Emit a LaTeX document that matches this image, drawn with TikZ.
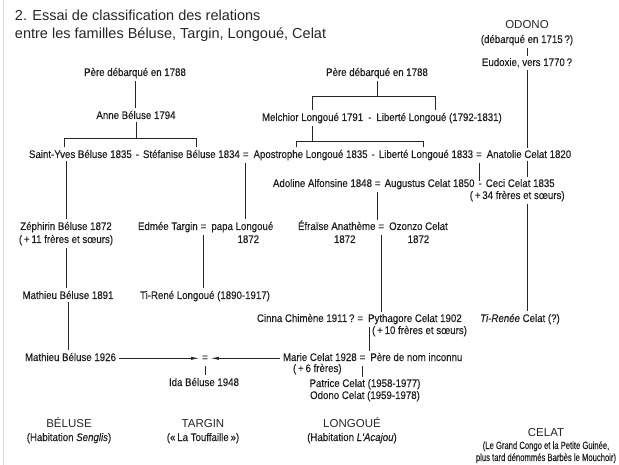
\documentclass[tikz,border=0pt]{standalone}
\usepackage{fontspec}
\setmainfont{Liberation Sans}
\newfontfamily\bodyfont[FakeStretch=0.88,FakeBold=0.3]{Liberation Sans}
\newfontfamily\narrowfont[FakeStretch=0.73,FakeBold=0.3]{Liberation Sans}
\usetikzlibrary{calc,arrows.meta}
\begin{document}
\begin{tikzpicture}[x=1pt,y=-1pt,
  txt/.style={inner sep=0pt, outer xsep=0pt, outer ysep=2.5pt, font=\bodyfont\fontsize{11}{13}\selectfont, text=black!88},
  bw/.style={txt, anchor=base west},
  bc/.style={txt, anchor=base},
  eq/.style={bw, outer ysep=5pt},
  lab/.style={inner sep=0pt, outer sep=0pt, anchor=base, font=\fontsize{11.5}{13}\selectfont, text=black!85},
  ttl/.style={lab, anchor=base west, font=\fontsize{14.5}{17}\selectfont},
  nar/.style={bc, font=\narrowfont\fontsize{10.5}{12}\selectfont},
  ln/.style={line width=0.75pt, draw=black!85},
  arr/.style={ln, -{Latex[length=8pt,width=3.2pt]}},
]
\useasboundingbox (0,0) rectangle (619,465);
\draw[gray!30, line width=1pt] (3,0) -- (3,465);

% title
\node[ttl] (t1) at (15,21) {2. Essai de classification des relations};
\node[ttl] (t2) at (15,39) {entre les familles Béluse, Targin, Longoué, Celat};

% Odono
\node[lab] (odono) at (527,29) {ODONO};
\node[bc] (deb) at (527,43) {(débarqué en 1715\,?)};
\node[bc] (eud) at (527,66) {Eudoxie, vers 1770\,?};

% first generations
\node[bc] (pere1) at (135,76) {Père débarqué en 1788};
\node[bc] (pere2) at (377,76) {Père débarqué en 1788};
\node[bc] (anne) at (136,119) {Anne Béluse 1794};
\node[bw] (mel) at (262,121) {Melchior Longoué 1791};
\node[bw] (md) at ([xshift=5pt]mel.base east) {-};
\node[bw] (lib1) at ([xshift=5pt]md.base east) {Liberté Longoué (1792-1831)};

% row C
\node[bw] (sy) at (29,158) {Saint-Yves Béluse 1835};
\node[bw] (d1) at ([xshift=4pt]sy.base east) {-};
\node[bw] (st) at ([xshift=4pt]d1.base east) {Stéfanise Béluse 1834};
\node[eq] (e1) at ([xshift=3pt]st.base east) {=};
\node[bw] (apo) at ([xshift=5pt]e1.base east) {Apostrophe Longoué 1835};
\node[bw] (d2) at ([xshift=4pt]apo.base east) {-};
\node[bw] (lib2) at ([xshift=4pt]d2.base east) {Liberté Longoué 1833};
\node[eq] (e2) at ([xshift=3pt]lib2.base east) {=};
\node[bw] (ana) at ([xshift=5pt]e2.base east) {Anatolie Celat 1820};

% row D
\node[bw] (ado) at (273,187) {Adoline Alfonsine 1848};
\node[eq] (e3) at ([xshift=3pt]ado.base east) {=};
\node[bw] (aug) at ([xshift=4pt]e3.base east) {Augustus Celat 1850};
\node[bw] (d3) at ([xshift=4pt]aug.base east) {-};
\node[bw] (ceci) at ([xshift=4pt]d3.base east) {Ceci Celat 1835};
\node[bc] (cecin) at ($(ceci.base)+(-3,12)$) {(\,+\,34 frères et sœurs)};

% row E
\node[bc] (zeph) at (66,230) {Zéphirin Béluse 1872};
\node[bc] (zephn) at (66,243) {(\,+\,11 frères et sœurs)};
\node[bw] (edm) at (138,230) {Edmée Targin};
\node[eq] (e5) at ([xshift=3pt]edm.base east) {=};
\node[bw] (papa) at ([xshift=5pt]e5.base east) {papa Longoué};
\node[bc] (papan) at ($(papa.base)+(6,13)$) {1872};
\node[bw] (efr) at (298,230) {Éfraïse Anathème};
\node[eq] (e4) at ([xshift=3pt]efr.base east) {=};
\node[bw] (ozo) at ([xshift=5pt]e4.base east) {Ozonzo Celat};
\node[bc] (efrn) at ($(efr.base)+(8,13)$) {1872};
\node[bc] (ozon) at ($(ozo.base)+(0,13)$) {1872};

% row F
\node[bc] (math1) at (68,299) {Mathieu Béluse 1891};
\node[bc] (tir1) at (205,299) {Ti-René Longoué (1890-1917)};

% row G
\node[bw] (cin) at (257,322) {Cinna Chimène 1911\,?};
\node[eq] (e6) at ([xshift=3pt]cin.base east) {=};
\node[bw] (pyt) at ([xshift=5pt]e6.base east) {Pythagore Celat 1902};
\node[bw] (pytn) at ($(pyt.base west)+(4,12)$) {(\,+\,10 frères et sœurs)};
\node[bc] (tir2) at (520,322) {\textit{Ti-Renée} Celat (?)};

% row H
\node[bw] (math2) at (25,361) {Mathieu Béluse 1926};
\node[txt, anchor=base, outer ysep=5pt] (eqm) at (205,361) {=};
\node[bw] (marie) at (283,361) {Marie Celat 1928};
\node[eq] (e7) at ([xshift=3pt]marie.base east) {=};
\node[bw] (pdn) at ([xshift=5pt]e7.base east) {Père de nom inconnu};
\node[bw] (marien) at (293,372) {(\,+\,6 frères)};

% row I
\node[bc] (ida) at (204,386) {Ida Béluse 1948};
\node[bc] (pat) at (365,387) {Patrice Celat (1958-1977)};
\node[bc] (odo) at (365,399) {Odono Celat (1959-1978)};

% footer
\node[lab] (lbel) at (69,427) {BÉLUSE};
\node[bc] (lbel2) at (69,441) {(Habitation \textit{Senglis})};
\node[lab] (ltar) at (203,427) {TARGIN};
\node[bc] (ltar2) at (203,441) {(«\,La Touffaille\,»)};
\node[lab] (llon) at (352,427) {LONGOUÉ};
\node[bc] (llon2) at (352,441) {(Habitation \textit{L'Acajou})};
\node[lab] (lcel) at (546,436) {CELAT};
\node[nar] (lcel2) at (546,449) {(Le Grand Congo et la Petite Guinée,};
\node[nar] (lcel3) at (546,461) {plus tard dénommés Barbès le Mouchoir)};

% connectors
\draw[ln] (deb.south) -- (deb.south |- eud.north);
\draw[ln] (eud.south) -- (eud.south |- ana.north);
\draw[ln] (eud.south |- ana.south) -- (eud.south |- ceci.north);
\draw[ln] (eud.south |- cecin.south) -- (eud.south |- tir2.north);

\draw[ln] (pere1.south) -- (pere1.south |- anne.north);
\coordinate (ab1) at (64,138); \coordinate (ab2) at (196,138);
\draw[ln] (anne.south) -- (anne.south |- ab1);
\draw[ln] (ab1 |- sy.north) -- (ab1) -- (ab2) -- (ab2 |- st.north);

\coordinate (pb1) at (312,96); \coordinate (pb2) at (435,96);
\draw[ln] (pere2.south) -- (pere2.south |- pb1);
\draw[ln] (pb1 |- mel.north) -- (pb1) -- (pb2) -- (pb2 |- lib1.north);

\coordinate (mb1) at (296,141); \coordinate (mb2) at (423,141);
\draw[ln] (pb1 |- mel.south) -- (pb1 |- mb1);
\draw[ln] (mb1 |- apo.north) -- (mb1) -- (mb2) -- (mb2 |- lib2.north);

\draw[ln] (zeph.north |- sy.south) -- (zeph.north);
\draw[ln] (e1.south) -- (e1.south |- papa.north);
\draw[ln] (e2.south) -- (e2.south |- d3.north);
\draw[ln] (e3.south) -- (e3.south |- e4.north);
\draw[ln] (e4.south) -- (e4.south |- pyt.north);
\draw[ln] (e5.south) -- (e5.south |- tir1.north);
\draw[ln] (zephn.south) -- (zephn.south |- math1.north);
\draw[ln] (math1.south) -- (math1.south |- math2.north);
\draw[ln] ([xshift=1.5pt]pyt.south west) -- ([xshift=1.5pt]pyt.south west |- marie.north);
\draw[arr] ([xshift=3pt]math2.east |- eqm.west) -- ([xshift=-3pt]eqm.west);
\draw[arr] ([xshift=-3pt]marie.west |- eqm.east) -- ([xshift=3pt]eqm.east);
\draw[ln] (eqm.south) -- (eqm.south |- ida.north);
\draw[ln] (e7.south) -- (e7.south |- pat.north);
\end{tikzpicture}
\end{document}
